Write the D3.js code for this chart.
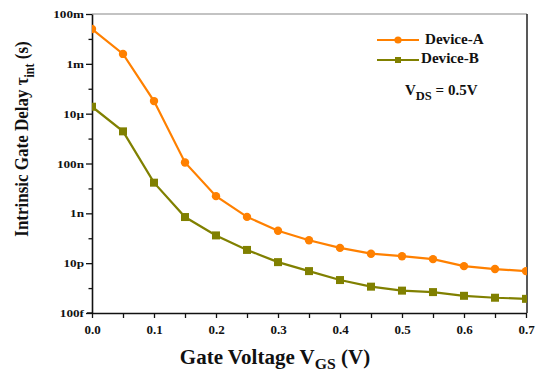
<!DOCTYPE html>
<html><head><meta charset="utf-8">
<script src="https://cdn.jsdelivr.net/npm/d3@7"></script>
<style>body{margin:0;background:#fff}svg{display:block}</style>
</head><body><svg id="c" width="536" height="371"></svg>
<script>
const vgs = [0,0.05,0.1,0.15,0.2,0.25,0.3,0.35,0.4,0.45,0.5,0.55,0.6,0.65,0.7];
const deviceA = [2.5e-2,2.5e-3,3.2e-5,1.1e-7,4.9e-9,7.2e-10,2.0e-10,8.3e-11,4.1e-11,2.4e-11,1.9e-11,1.45e-11,7.6e-12,5.8e-12,4.8e-12];
const deviceB = [1.9e-5,1.95e-6,1.7e-8,7.1e-10,1.3e-10,3.4e-11,1.1e-11,4.8e-12,2.1e-12,1.14e-12,7.9e-13,6.9e-13,4.9e-13,4.1e-13,3.7e-13];
const yTickVals = [1e-1,1e-3,1e-5,1e-7,1e-9,1e-11,1e-13];
const yTickLabels = ["100m","1m","10\u00b5","100n","1n","10p","100f"];
const xTickVals = [0,0.1,0.2,0.3,0.4,0.5,0.6,0.7];
const xTickLabels = ["0.0","0.1","0.2","0.3","0.4","0.5","0.6","0.7"];
const seriesNames = ["Device-A","Device-B"];
const colors = ["#ff8000","#808000"];

const FONT = "'Liberation Serif','Times New Roman','DejaVu Serif',serif";
const svg = d3.select("#c");
const L=92,R=526,T=14,B=313;
const x = d3.scaleLinear().domain([0,0.7]).range([L,R]);
const y = d3.scaleLog().domain([1e-13,1e-1]).range([B,T]);

svg.append("defs").append("clipPath").attr("id","clip").append("rect")
  .attr("x",L).attr("y",T).attr("width",R-L+1).attr("height",B-T);

svg.append("line").attr("x1",L).attr("x2",R+1).attr("y1",T).attr("y2",T).attr("stroke","#888").attr("stroke-width",1.2);
svg.append("line").attr("x1",R+1).attr("x2",R+1).attr("y1",T).attr("y2",B).attr("stroke","#222").attr("stroke-width",1.5);

const yAx = svg.append("g").attr("transform",`translate(${L},0)`)
  .call(d3.axisLeft(y).tickValues(yTickVals).tickFormat((d,i)=>yTickLabels[i]).tickSize(6).tickSizeOuter(0));
const minorY = d3.range(-12,0,2).map(e=>Math.pow(10,e));
svg.append("g").attr("transform",`translate(${L},0)`)
  .call(d3.axisLeft(y).tickValues(minorY).tickFormat("").tickSize(3.5).tickSizeOuter(0))
  .select(".domain").remove();
const xAx = svg.append("g").attr("transform",`translate(0,${B})`)
  .call(d3.axisBottom(x).tickValues(xTickVals).tickFormat((d,i)=>xTickLabels[i]).tickSize(5).tickSizeOuter(0));
svg.append("g").attr("transform",`translate(0,${B})`)
  .call(d3.axisBottom(x).tickValues([0.05,0.15,0.25,0.35,0.45,0.55,0.65]).tickFormat("").tickSize(5).tickSizeOuter(0))
  .select(".domain").remove();
svg.selectAll("g").attr("font-family",FONT).attr("font-weight","bold");
svg.selectAll(".domain").attr("stroke","#111").attr("stroke-width",1.6);
svg.selectAll(".tick line").attr("stroke","#111").attr("stroke-width",1.3);
svg.selectAll(".tick text").attr("fill","#111");
xAx.selectAll(".tick text").attr("font-size",13).attr("y",12);
yAx.selectAll(".tick text").attr("font-size",11).attr("x",0).attr("transform","translate(-8,0) scale(1.2,1)");
svg.append("line").attr("x1",L-5).attr("x2",L).attr("y1",B).attr("y2",B).attr("stroke","#111").attr("stroke-width",1.4);

const data = [deviceA, deviceB];
const plot = svg.append("g").attr("clip-path","url(#clip)");
const line = d3.line().x((d,i)=>x(vgs[i])).y(d=>y(d));
data.forEach((s,k)=>{
  plot.append("path").datum(s).attr("d",line).attr("fill","none").attr("stroke",colors[k]).attr("stroke-width",2.2);
  if(k===0){
    plot.selectAll(null).data(s).enter().append("circle").attr("cx",(d,i)=>x(vgs[i])).attr("cy",d=>y(d)).attr("r",4.2).attr("fill",colors[k]);
  } else {
    plot.selectAll(null).data(s).enter().append("rect").attr("x",(d,i)=>x(vgs[i])-4).attr("y",d=>y(d)-4).attr("width",8).attr("height",8).attr("fill",colors[k]);
  }
});

const txt = (sel)=>sel.attr("font-family",FONT).attr("font-weight","bold").attr("fill","#111");
const lg = svg.append("g");
[[40,44,0,425],[60,63,1,421]].forEach(([ly,ty,k,tx])=>{
  lg.append("line").attr("x1",377).attr("x2",419).attr("y1",ly).attr("y2",ly).attr("stroke",colors[k]).attr("stroke-width",2.2);
  if(k===0) lg.append("circle").attr("cx",398).attr("cy",ly).attr("r",3.6).attr("fill",colors[k]);
  else lg.append("rect").attr("x",395).attr("y",ly-3).attr("width",6).attr("height",6).attr("fill",colors[k]);
  lg.append("text").attr("transform",`translate(${tx},${ty}) scale(1.08,1)`).text(seriesNames[k]).attr("font-size",14).call(txt);
});
const vt = svg.append("text").attr("x",405).attr("y",95).attr("font-size",15).call(txt);
vt.append("tspan").text("V");
vt.append("tspan").attr("dy",5).attr("font-size",12.5).text("DS");
vt.append("tspan").attr("dy",-5).text(" = 0.5V");

const xt = svg.append("text").attr("transform","translate(275,364) scale(1.05,1)").attr("text-anchor","middle").attr("font-size",20).call(txt);
xt.append("tspan").text("Gate Voltage V");
xt.append("tspan").attr("dy",5).attr("font-size",15).text("GS");
xt.append("tspan").attr("dy",-5).text(" (V)");
const yt = svg.append("text").attr("transform","translate(28,139) scale(1.15,1) rotate(-90)").attr("text-anchor","middle").attr("font-size",17).call(txt);
yt.append("tspan").text("Intrinsic Gate Delay \u03c4");
yt.append("tspan").attr("dy",5).attr("font-size",12).text("int");
yt.append("tspan").attr("dy",-5).text(" (s)");
</script></body></html>
